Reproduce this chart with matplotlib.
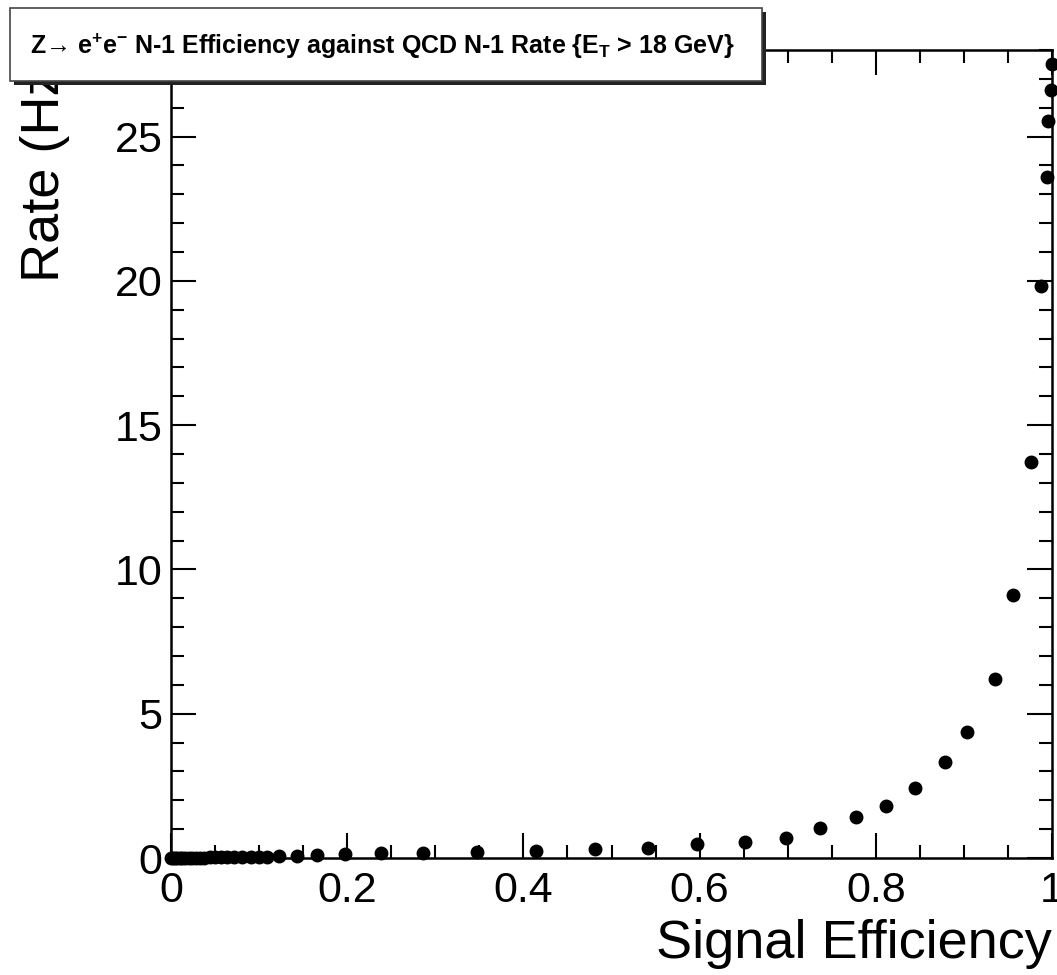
import matplotlib
matplotlib.use("Agg")
import matplotlib.pyplot as plt
from matplotlib.patches import Rectangle
from matplotlib.ticker import MultipleLocator, FuncFormatter

plt.rcParams["font.family"] = ["Liberation Sans", "DejaVu Sans"]
plt.rcParams["mathtext.fontset"] = "custom"
plt.rcParams["mathtext.rm"] = "Liberation Sans:bold"
plt.rcParams["mathtext.it"] = "Liberation Sans:bold"
plt.rcParams["mathtext.bf"] = "Liberation Sans:bold"

# signal efficiency vs QCD rate (Hz)
efficiency = [
    0.000, 0.002, 0.004, 0.007, 0.010, 0.013, 0.016, 0.020, 0.024, 0.028,
    0.033, 0.038, 0.044, 0.050, 0.057, 0.064, 0.072, 0.081, 0.091, 0.100,
    0.109, 0.123, 0.143, 0.166, 0.198, 0.238, 0.286, 0.347, 0.414, 0.481,
    0.541, 0.597, 0.651, 0.698, 0.737, 0.777, 0.812, 0.844, 0.878, 0.904,
    0.935, 0.956, 0.976, 0.988, 0.994, 0.996, 0.999, 0.9995,
]
rate = [
    0.00, 0.00, 0.00, 0.00, 0.00, 0.00, 0.01, 0.01, 0.01, 0.01,
    0.01, 0.01, 0.02, 0.02, 0.02, 0.02, 0.03, 0.03, 0.03, 0.04,
    0.05, 0.06, 0.07, 0.10, 0.14, 0.16, 0.16, 0.20, 0.24, 0.31,
    0.36, 0.49, 0.56, 0.68, 1.05, 1.42, 1.81, 2.41, 3.34, 4.38,
    6.21, 9.11, 13.73, 19.83, 23.60, 25.55, 26.60, 27.50,
]

x_ticks = [0, 0.2, 0.4, 0.6, 0.8, 1.0]
y_ticks = [0, 5, 10, 15, 20, 25]
title = r"Z→ e$^{+}$e$^{-}$ N-1 Efficiency against QCD N-1 Rate {E$_{T}$ > 18 GeV}"

W, H = 1057, 975
fig = plt.figure(figsize=(W / 100, H / 100), dpi=100)
fig.patch.set_facecolor("white")
ax = fig.add_axes([171 / W, 1 - 858 / H, (1052 - 171) / W, (858 - 50) / H])

ax.plot(efficiency, rate, "o", color="black", markersize=9, clip_on=False, zorder=5)

ax.set_xlim(0, 1)
ax.set_ylim(0, 28)
ax.set_xticks(x_ticks)
ax.set_yticks(y_ticks)
ax.xaxis.set_minor_locator(MultipleLocator(0.05))
ax.yaxis.set_minor_locator(MultipleLocator(1))
ax.xaxis.set_major_formatter(FuncFormatter(lambda v, p: f"{v:g}"))

for side in ax.spines.values():
    side.set_linewidth(1.8)
ax.tick_params(which="both", direction="in", top=True, right=True, width=1.5,
               labelsize=31)
ax.tick_params(which="major", length=18)
ax.tick_params(which="minor", length=9.5)
ax.tick_params(axis="x", pad=9)
ax.tick_params(axis="y", pad=6)

ax.set_xlabel("Signal Efficiency", fontsize=39, loc="right", labelpad=6)
ax.set_ylabel("Rate (Hz)", fontsize=39, loc="top", labelpad=32)

# ROOT-style title pave with shadow
bx0, bx1, by0, by1 = 10, 762, 8, 81
sh = 4
fig.patches.append(Rectangle(((bx0 + sh) / W, 1 - (by1 + sh) / H), (bx1 - bx0) / W, (by1 - by0) / H,
                             transform=fig.transFigure, facecolor="#222222", edgecolor="none", zorder=10))
fig.patches.append(Rectangle((bx0 / W, 1 - by1 / H), (bx1 - bx0) / W, (by1 - by0) / H,
                             transform=fig.transFigure, facecolor="white", edgecolor="#444444",
                             linewidth=1.2, zorder=11))
fig.text((bx0 + bx1) / 2 / W - 4 / W, 1 - 46 / H, title, ha="center", va="center",
         fontsize=18, fontweight="bold", zorder=12)

fig.savefig("out.png", dpi=100)
